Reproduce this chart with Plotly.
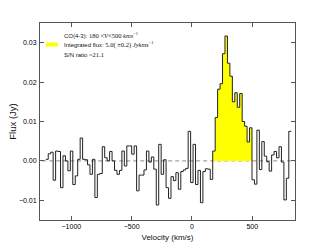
import numpy as np
import plotly.graph_objects as go

# ---- data ----
V_START = -1212.0      # km/s, left edge of first channel
CHAN_WIDTH = 20.35     # km/s
LINE_VMIN, LINE_VMAX = 180, 500

flux_pre = [0.0004, 0.0018, 0.0022, -0.0049, 0.0025, 0.0024, -0.0068, 0.0013, 0.0, -0.0025,
            0.0025, -0.006, -0.0038, 0.0004, 0.0058, 0.0004, 0.0003, -0.001, -0.0034, 0.0004,
            -0.0093, -0.0034, -0.0032, 0.0036, 0.0008, 0.0, 0.0024, 0.0, -0.0024, -0.0034,
            -0.0024, 0.0025, -0.0013, 0.0038, 0.0038, 0.0017, 0.0038, -0.0076, -0.0036, -0.0036,
            -0.0023, 0.0025, -0.0003, 0.001, -0.0021, -0.0112, 0.0042, -0.0034, 0.0003, -0.0068,
            -0.0095, -0.004, -0.005, -0.003, -0.0072, -0.0027, -0.0023, -0.0019, 0.0075, -0.0055,
            0.0042, -0.006, -0.0024, -0.0106, -0.0027, -0.002, -0.0021, -0.0047]
flux_line = [0.0025, 0.011, 0.0182, 0.0196, 0.0272, 0.0317, 0.0248, 0.0215, 0.0150, 0.0173,
             0.0136, 0.0171, 0.0100, 0.0088, 0.0048, 0.0084]
flux_post = [-0.0048, -0.0059, 0.0078, -0.0022, 0.0049, 0.0012, -0.0002, -0.0026, 0.0015, 0.0024,
             0.0008, 0.0036, -0.0003, -0.0099, -0.0044, 0.0075]

x_ticks = [-1000, -500, 0, 500]
y_ticks = [-0.01, 0.0, 0.01, 0.02, 0.03]
y_ticklabels = ["\u22120.01", "0.00", "0.01", "0.02", "0.03"]
x_ticklabels = ["\u22121000", "\u2212500", "0", "500"]

flux = np.array(flux_pre + flux_line + flux_post)
edges = V_START + CHAN_WIDTH * np.arange(len(flux) + 1)
centers = 0.5 * (edges[:-1] + edges[1:])
sel = np.where((centers > LINE_VMIN) & (centers < LINE_VMAX))[0]
i0, i1 = sel[0], sel[-1] + 1

step_y = np.append(flux, flux[-1])
fill_x = edges[i0:i1 + 1]
fill_y = np.append(flux[i0:i1], flux[i1 - 1])

fig = go.Figure()
fig.add_trace(go.Scatter(x=[-1300, 900], y=[0, 0], mode="lines",
                         line=dict(color="#8a8a8a", width=1, dash="4px,3px"),
                         hoverinfo="skip", showlegend=False))
fig.add_trace(go.Scatter(x=fill_x, y=fill_y, mode="lines", line_shape="hv",
                         line=dict(width=0, color="yellow"), fill="tozeroy",
                         fillcolor="#ffff00", showlegend=False))
fig.add_trace(go.Scatter(x=edges, y=step_y, mode="lines", line_shape="hv",
                         line=dict(color="#222222", width=1), showlegend=False))

FONT = "Liberation Sans, Arial, sans-serif"
axis_common = dict(showline=True, linecolor="#555555", linewidth=1, mirror="allticks",
                   ticks="inside", ticklen=4, tickcolor="#555555", showgrid=False,
                   zeroline=False, tickfont=dict(family=FONT, size=7, color="#000000"))
fig.update_xaxes(range=[-1260, 854], tickvals=x_ticks, ticktext=x_ticklabels,
                 title=dict(text="Velocity (km/s)", standoff=4,
                            font=dict(family=FONT, size=8, color="#111111")),
                 **axis_common)
fig.update_yaxes(range=[-0.015, 0.035], tickvals=y_ticks, ticktext=y_ticklabels,
                 ticklabelstandoff=1,
                 title=dict(text="Flux (Jy)", standoff=0,
                            font=dict(family=FONT, size=9.5, color="#111111")),
                 **axis_common)

def px2paper(px, py):
    return (px - 40) / 255.0, (220 - py) / 197.0

SERIF = "Liberation Serif, Times New Roman, serif"
lines = [
    ("CO(4-3): <span style='font-family:%s;font-size:6.5px'>180 &lt;<i>V</i>&lt;500 <i>kms</i><sup>\u22121</sup></span>" % SERIF, 34.5),
    ("Integrated flux: <span style='font-family:%s;font-size:6.5px'>5.0( \u00b10.2) <i>Jykms</i><sup>\u22121</sup></span>" % SERIF, 44.5),
    ("S/N ratio <span style='font-family:%s;font-size:6.5px'>~21.1</span>" % SERIF, 54.0),
]
for txt, py in lines:
    xp, yp = px2paper(62, py)
    fig.add_annotation(x=xp, y=yp, xref="paper", yref="paper", text=txt, showarrow=False,
                       xanchor="left", yanchor="middle", font=dict(family=FONT, size=6, color="#111111"))

x0p, y0p = px2paper(46, 46.5)
x1p, y1p = px2paper(58, 42.5)
fig.add_shape(type="rect", xref="paper", yref="paper", x0=x0p, x1=x1p, y0=y0p, y1=y1p,
              fillcolor="#ffff00", line=dict(width=0))

fig.update_layout(width=327, height=245, margin=dict(l=40, r=32, t=23, b=25, autoexpand=False),
                  paper_bgcolor="white", plot_bgcolor="white", showlegend=False)
fig.write_html("out.html",
               config={"displayModeBar": False, "staticPlot": True},
               post_script="document.body.style.margin='0';document.body.style.padding='0';"
                           "document.documentElement.style.overflow='hidden';")
